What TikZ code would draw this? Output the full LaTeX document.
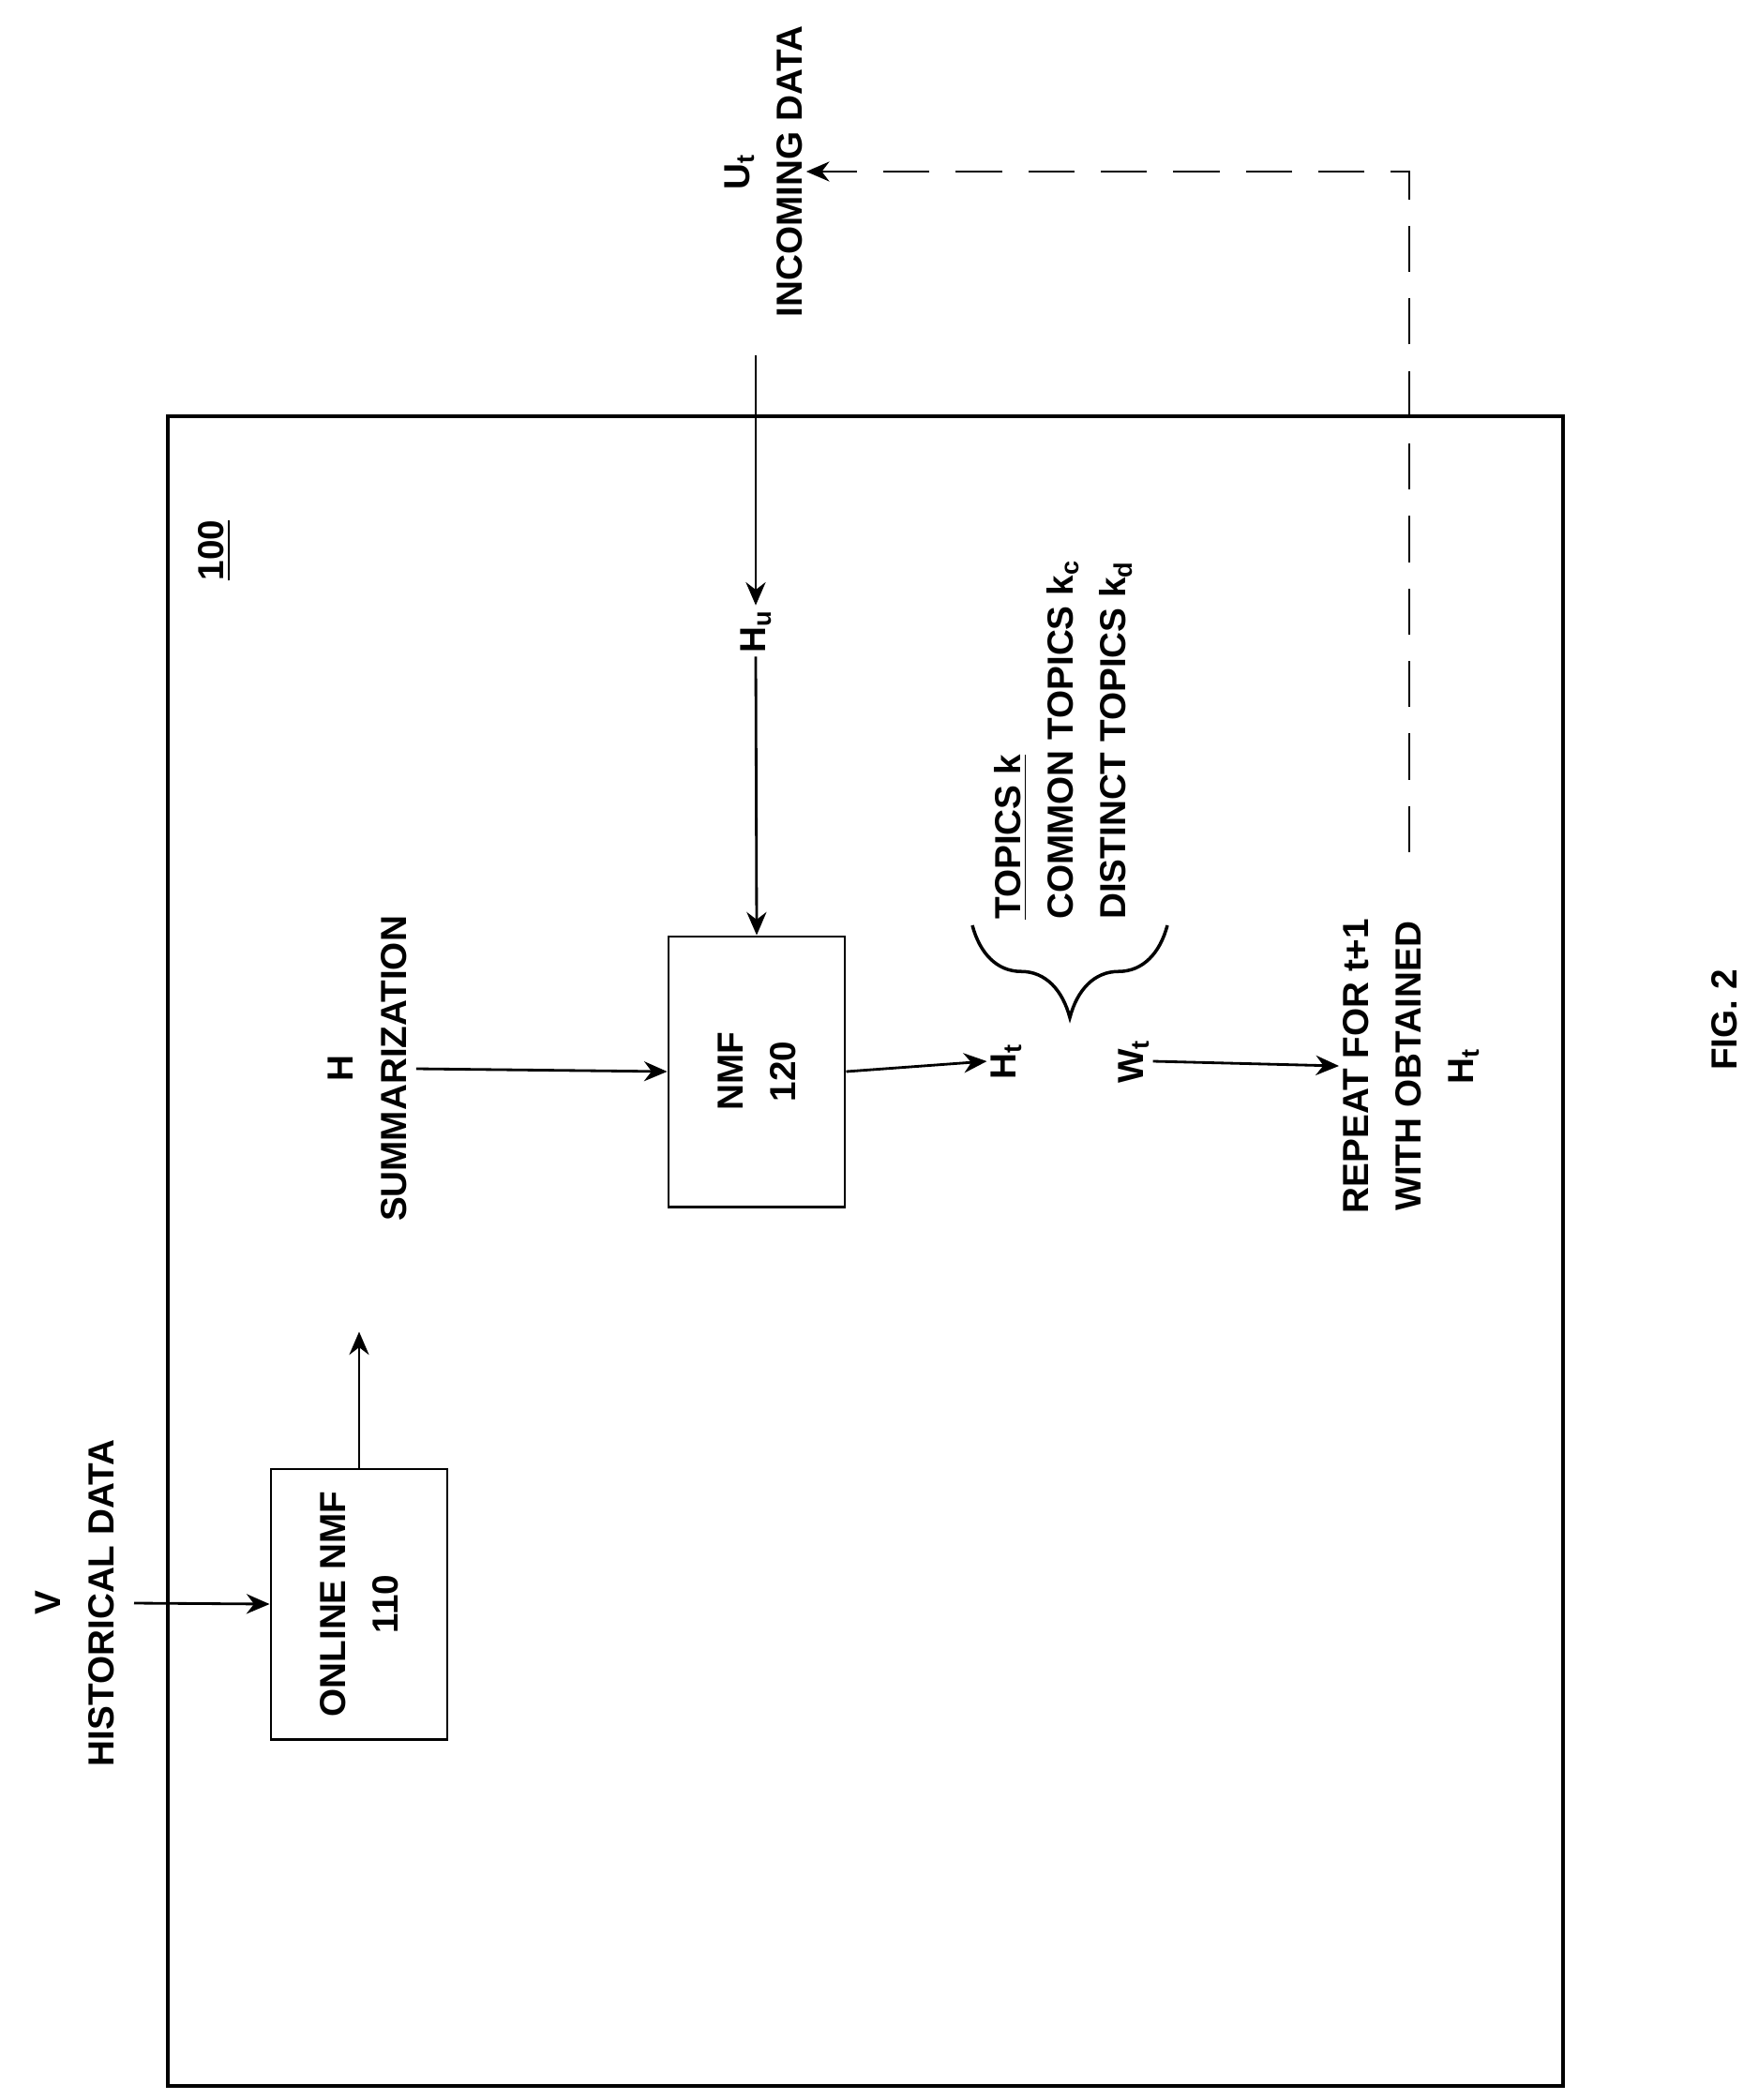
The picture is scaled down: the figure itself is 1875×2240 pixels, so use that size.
\documentclass[tikz,border=0pt]{standalone}
\usepackage{fontspec}
\setmainfont{Liberation Sans}
\usetikzlibrary{decorations.pathreplacing,arrows.meta}
\tikzset{
	lbl/.style={rotate=90, font=\fontsize{11}{16}\selectfont\bfseries, align=center, inner sep=1pt},
	blk/.style={draw, line width=0.8pt, minimum width=2.88cm, minimum height=1.88cm, rotate=90, font=\fontsize{11}{16}\selectfont\bfseries, align=center},
	flow/.style={line width=0.8pt, -{Stealth[length=7pt,width=6pt]}}
}
\begin{document}
\begin{tikzpicture}[x=0.01cm, y=-0.01cm]
			%%%%% START %%%%%
			
			\useasboundingbox (0, 0) rectangle (1875, 2240);
			
			\draw[line width=1.2pt] (179, 444) rectangle (1667, 2225);
			\node[font=\fontsize{11}{16}\selectfont\bfseries, rotate=90] (ref) at (229, 587) {\underline{100}};
			
			\node[blk] (onmf) at (383, 1711) {ONLINE NMF\\110};
			\node[blk] (nmf) at (807, 1143) {NMF\\120};
			
			\node[lbl] (hist) at (80, 1710) {V\\HISTORICAL DATA};
			\node[lbl] (summ) at (392, 1140) {H\\SUMMARIZATION};
			\node[lbl] (inc) at (814, 183) {U\textsubscript{t}\\INCOMING DATA};
			\node[lbl] (hu) at (806, 673) {H\textsubscript{u}};
			\node[lbl] (ht) at (1073, 1132) {H\textsubscript{t}};
			\node[lbl] (wt) at (1209, 1132) {W\textsubscript{t}};
			\node[lbl] (rep) at (1505, 1137) {REPEAT FOR t+1\\WITH OBTAINED\\H\textsubscript{t}};
			\node[lbl, anchor=west, align=left] (topics) at (1134, 985) {\underline{TOPICS k}\\COMMON TOPICS k\textsubscript{c}\\DISTINCT TOPICS k\textsubscript{d}};
			\node[lbl] (fig) at (1839, 1088) {FIG. 2};
			
			\coordinate (vin) at (143, 1710);
			\coordinate (uin) at (806, 379);
			\coordinate (loopup) at (1503, 183);
			
			\draw[flow] (vin) -- (onmf.north);
			\draw[flow] (onmf.east) -- ++(0, -145);
			\draw[flow] (summ.south) ++(6, 0) -- (nmf.north);
			\draw[flow] (nmf.south) -- (ht.north);
			\draw[flow] (uin) -- (hu.east);
			\draw[flow] (hu.west) -- (nmf.east);
			\draw[flow] (wt.south) -- (rep.north);
			\draw[flow, dash pattern=on 14pt off 8pt] (1503, 909) -- (loopup) -- (inc.south);
			
			\draw[line width=1pt, decorate, decoration={brace, amplitude=28pt, mirror}] (1037, 987) -- (1245, 987);
			
			%%%%% END %%%%%
		\end{tikzpicture}
\end{document}
